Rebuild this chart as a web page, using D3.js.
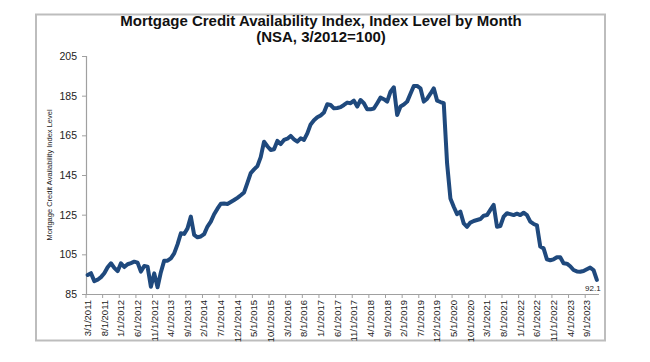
<!DOCTYPE html>
<html>
<head>
<meta charset="utf-8">
<script src="https://cdn.jsdelivr.net/npm/d3@7"></script>
<style>
  html, body { margin: 0; padding: 0; background: #fff; }
  svg { display: block; }
  text { font-family: "Liberation Sans", Arial, sans-serif; }
</style>
</head>
<body>
<svg id="chart" width="650" height="362"></svg>
<script>
// ---- data ----
const titleLines = ["Mortgage Credit Availability Index, Index Level by Month", "(NSA, 3/2012=100)"];
const yAxisTitle = "Mortgage Credit Availability Index Level";
const startYear = 2011, startMonth = 3;   // first category: 3/1/2011
const mcaiValues = [
  94.6, 95.5, 91.5, 92.2, 93.5, 95.5, 98.5, 100.5, 98.2, 96.5,
  100.5, 98.6, 100.0, 100.6, 101.3, 100.8, 96.3, 99.1, 98.8, 88.7, 95.4, 88.4,
  96.0, 101.8, 101.8, 103.0, 105.5, 110.0, 115.6, 115.3, 118.1, 124.0, 114.8, 113.6,
  114.0, 115.2, 119.0, 121.5, 125.2, 128.0, 130.5, 130.6, 130.4, 131.4, 132.4, 133.5,
  134.8, 136.2, 141.0, 146.0, 147.8, 149.5, 154.0, 161.8, 159.5, 157.6, 158.0, 162.2,
  160.6, 162.7, 163.3, 164.7, 163.0, 161.8, 163.5, 162.7, 166.0, 170.5, 172.6, 174.1,
  175.0, 176.5, 180.7, 180.3, 178.6, 178.8, 179.2, 180.3, 181.5, 181.2, 182.5, 179.5,
  182.8, 181.2, 178.1, 178.1, 178.5, 181.2, 184.0, 183.2, 182.0, 187.0, 189.2, 175.3,
  179.5, 180.5, 182.0, 186.0, 189.9, 189.9, 188.7, 182.0, 183.5, 186.0, 188.7, 182.5,
  181.8, 181.2, 150.9, 133.2, 129.0, 125.3, 126.5, 120.6, 118.9, 121.0, 121.8, 122.3,
  122.8, 124.5, 124.8, 127.4, 129.9, 118.9, 119.3, 124.0, 125.7, 125.3, 124.8, 125.5,
  124.8, 126.0, 124.8, 121.5, 120.3, 119.6, 108.9, 108.0, 102.5, 102.0, 102.5, 103.5,
  103.5, 100.5, 100.3, 99.0, 97.1, 96.4, 96.2, 96.6, 97.5, 98.3, 97.1, 92.1
];
const xTickLabels = ["3/1/2011","8/1/2011","1/1/2012","6/1/2012","11/1/2012","4/1/2013","9/1/2013",
  "2/1/2014","7/1/2014","12/1/2014","5/1/2015","10/1/2015","3/1/2016","8/1/2016","1/1/2017",
  "6/1/2017","11/1/2017","4/1/2018","9/1/2018","2/1/2019","7/1/2019","12/1/2019","5/1/2020",
  "10/1/2020","3/1/2021","8/1/2021","1/1/2022","6/1/2022","11/1/2022","4/1/2023","9/1/2023"];
const yTicks = [85, 105, 125, 145, 165, 185, 205];
const lastLabel = "92.1";

// categories
const categories = mcaiValues.map((v, i) => {
  const m0 = startMonth - 1 + i;
  return (m0 % 12 + 1) + "/1/" + (startYear + Math.floor(m0 / 12));
});
const data = categories.map((c, i) => ({ cat: c, value: mcaiValues[i] }));

// ---- layout ----
const svg = d3.select("#chart");
const plotL = 86, plotR = 598.5, plotT = 56, plotB = 294;

// outer frame
svg.append("rect").attr("x", 36).attr("y", 14.5).attr("width", 569).attr("height", 326)
  .attr("fill", "none").attr("stroke", "#bdbdbd").attr("stroke-width", 2);

const x = d3.scaleBand().domain(categories).range([plotL, plotR]).padding(0);
const y = d3.scaleLinear().domain([85, 205]).range([plotB, plotT]);
const bw = x.bandwidth();

// title
svg.append("text").attr("x", 321).attr("y", 25.5).attr("text-anchor", "middle")
  .attr("font-size", 15).attr("font-weight", "bold").attr("fill", "#111").text(titleLines[0]);
svg.append("text").attr("x", 321).attr("y", 42).attr("text-anchor", "middle")
  .attr("font-size", 15).attr("font-weight", "bold").attr("fill", "#111").text(titleLines[1]);

// y axis
const yAxis = svg.append("g").attr("transform", `translate(${plotL},0)`)
  .call(d3.axisLeft(y).tickValues(yTicks).tickSize(4).tickPadding(5).tickFormat(d3.format("d")));
yAxis.select(".domain").attr("stroke", "#a0a0a0").attr("stroke-width", 1.2);
yAxis.selectAll(".tick line").attr("stroke", "#a0a0a0");
yAxis.selectAll(".tick text").attr("font-size", 10.5).attr("fill", "#222")
  .style("font-family", "'Liberation Sans', Arial, sans-serif");

// y axis title
svg.append("text")
  .attr("transform", `translate(52,${(plotT + plotB) / 2}) rotate(-90)`)
  .attr("text-anchor", "middle").attr("font-size", 7.5).attr("fill", "#222")
  .style("font-family", "'Liberation Sans Narrow', 'Liberation Sans', Arial, sans-serif")
  .text(yAxisTitle);

// x axis
const xAxis = svg.append("g").attr("transform", `translate(0,${plotB})`)
  .call(d3.axisBottom(x).tickValues(xTickLabels).tickSize(4).tickSizeOuter(0));
xAxis.select(".domain").attr("stroke", "#a0a0a0").attr("stroke-width", 1.2);
xAxis.selectAll(".tick line").attr("stroke", "#a0a0a0")
  .attr("transform", `translate(${-bw / 2},0)`);
xAxis.selectAll(".tick text")
  .attr("transform", "rotate(-90)")
  .attr("x", -6).attr("y", 0).attr("dy", "0.35em")
  .style("text-anchor", "end")
  .attr("font-size", 9.5).attr("fill", "#222")
  .style("font-family", "'Liberation Sans', Arial, sans-serif");

// line
const line = d3.line().x(d => x(d.cat) + bw / 2).y(d => y(d.value)).curve(d3.curveLinear);
svg.append("path").datum(data).attr("d", line)
  .attr("fill", "none").attr("stroke", "#1F497D").attr("stroke-width", 4)
  .attr("stroke-linejoin", "round").attr("stroke-linecap", "round");

// last value label
const last = data[data.length - 1];
svg.append("text").attr("x", x(last.cat) + bw / 2 - 4).attr("y", y(last.value) + 11)
  .attr("text-anchor", "middle").attr("font-size", 8).attr("fill", "#222").text(lastLabel);
</script>
</body>
</html>
